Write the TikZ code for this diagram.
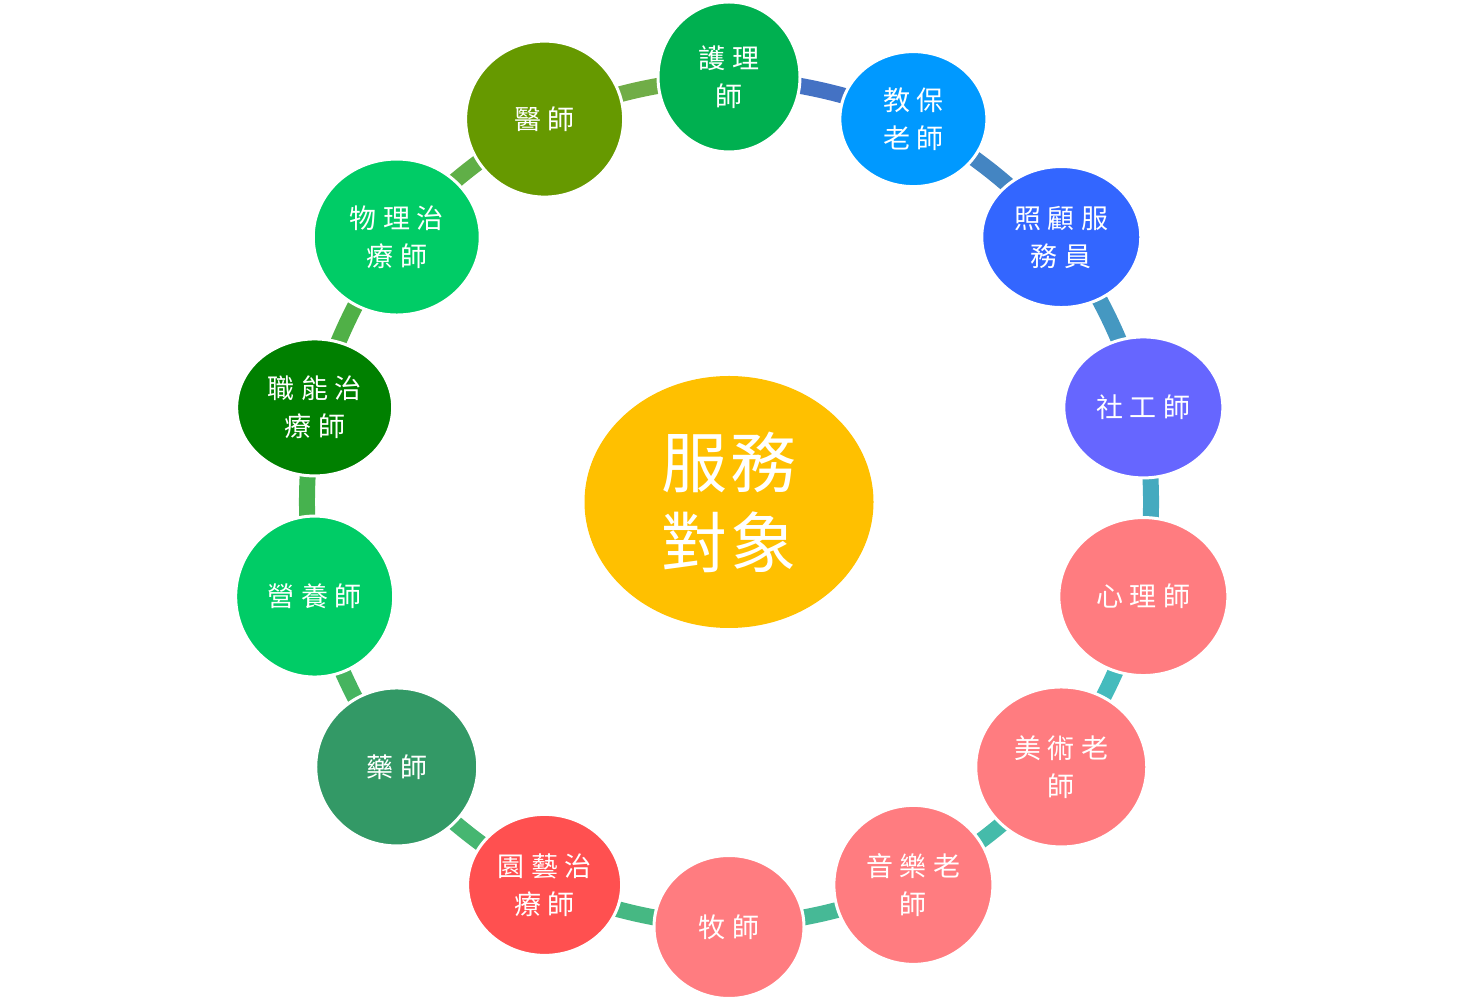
\documentclass[tikz,border=0pt]{standalone}
\usepackage{fontspec}
\usepackage{tikz}
\usetikzlibrary{shapes.geometric, backgrounds}

\newfontfamily\cjk[LetterSpace=25]{Noto Sans CJK TC}
\newfontfamily\cjkbig[LetterSpace=6]{Noto Sans CJK TC}

\definecolor{hub}{HTML}{FFC000}
\definecolor{nurse}{HTML}{00B050}
\definecolor{teacher}{HTML}{0099FF}
\definecolor{carer}{HTML}{3366FF}
\definecolor{social}{HTML}{6666FF}
\definecolor{salmon}{HTML}{FF7C80}
\definecolor{garden}{HTML}{FF5050}
\definecolor{pharma}{HTML}{339966}
\definecolor{fresh}{HTML}{00CC66}
\definecolor{deep}{HTML}{008000}
\definecolor{olive}{HTML}{669900}

\tikzset{
  role/.style={ellipse, draw=white, line width=3pt, inner sep=0pt, align=center,
    text=white, font=\cjk\fontsize{27}{38}\selectfont},
  link/.style={line width=16pt},
}

\begin{document}
\begin{tikzpicture}[x=1pt, y=1pt]
    \useasboundingbox (0,0) rectangle (1464,1001);
    \coordinate (c) at (729,499);

    % Center
    \node[ellipse, fill=hub, minimum width=289pt, minimum height=252pt, inner sep=0pt,
      align=center, text=white, font=\cjkbig\fontsize{66}{80}\selectfont] (target) at (c) {服務\\對象};

    % Roles around the circle
    \foreach \i/\txt/\col/\w/\h in {1/{護理\\師}/nurse/142pt/150pt, 2/{教保\\老師}/teacher/147pt/135pt,
        3/{照顧服\\務員}/carer/159pt/141pt, 4/{社工師}/social/159pt/141pt, 5/{心理師}/salmon/169pt/158pt,
        6/{美術老\\師}/salmon/171pt/160pt, 7/{音樂老\\師}/salmon/159pt/159pt, 8/{牧師}/salmon/150pt/143pt,
        9/{園藝治\\療師}/garden/154pt/141pt, 10/{藥師}/pharma/162pt/158pt, 11/{營養師}/fresh/158pt/161pt,
        12/{職能治\\療師}/deep/156pt/137pt, 13/{物理治\\療師}/fresh/167pt/156pt, 14/{醫師}/olive/158pt/156pt} {
      \node[role, fill=\col, minimum width=\w, minimum height=\h] (r\i) at ([shift={({90-(\i-1)*360/14}:425)}]c) {\txt};
    }

    % Ring segments, blue to green
    \begin{scope}[on background layer]
      \foreach \i in {1,...,14} {
        \pgfmathtruncatemacro\j{mod(\i,14)+1}
        \pgfmathsetmacro\hue{218.4-(\i-1)*9.42}
        \pgfmathsetmacro\sat{0.653-(\i-1)*0.0048}
        \pgfmathsetmacro\bri{0.769-(\i-1)*0.007}
        \definecolor{linkcol}{Hsb}{\hue,\sat,\bri}
        \draw[link, linkcol] (r\i.center) to[bend left=8] (r\j.center);
      }
    \end{scope}
\end{tikzpicture}
\end{document}
